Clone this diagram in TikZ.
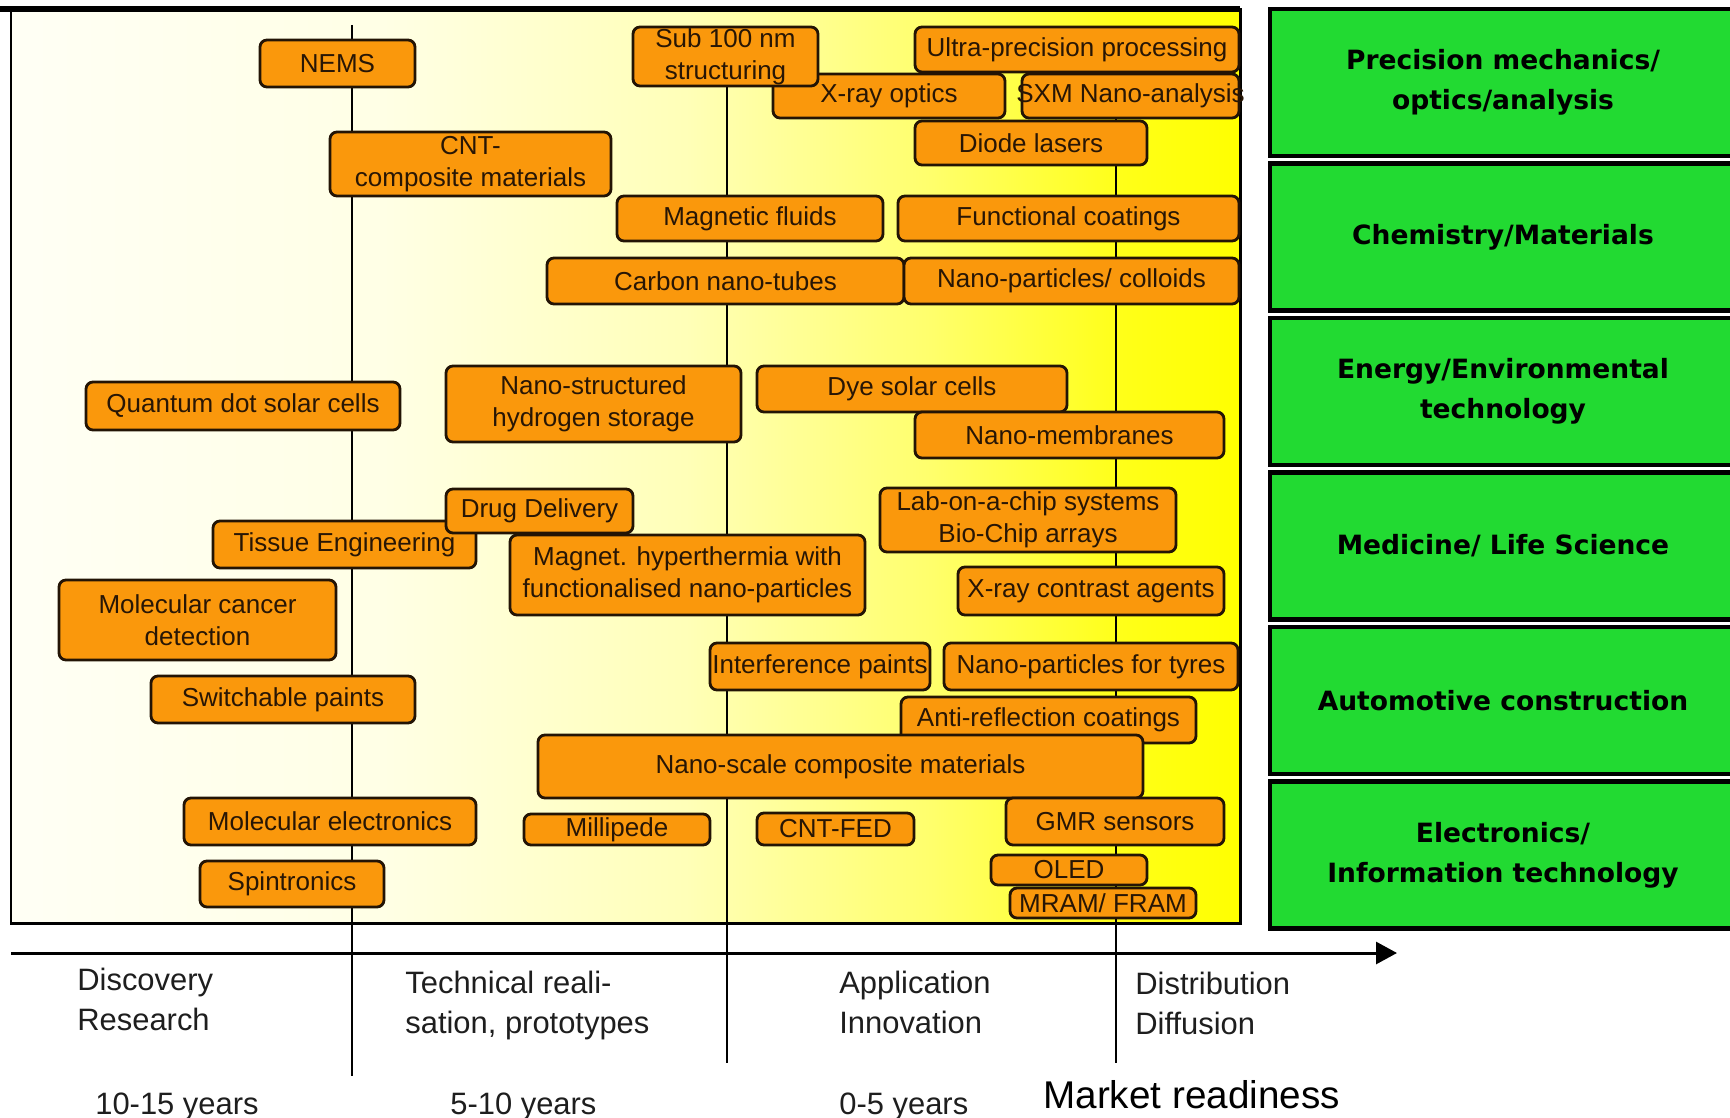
\documentclass[tikz,border=0pt]{standalone}
\usepackage{fontspec}
\setmainfont{Liberation Sans}
\newfontfamily\sectorfont{DejaVu Sans}
\usetikzlibrary{arrows.meta}

\definecolor{techorange}{RGB}{250,152,12}
\definecolor{boxline}{RGB}{35,20,5}
\definecolor{boxtext}{RGB}{40,22,5}
\definecolor{sectorgreen}{RGB}{34,218,50}
\definecolor{labelgray}{RGB}{30,30,30}

% cream on the left, plain yellow towards market readiness
\pgfdeclarehorizontalshading{readiness}{100bp}{rgb(0bp)=(1,1,0.96); rgb(25bp)=(1,1,0.96); rgb(40bp)=(1,1,0.9); rgb(52.5bp)=(1,1,0.72); rgb(62.5bp)=(1,1,0.42); rgb(70bp)=(1,1,0.1); rgb(75bp)=(1,1,0); rgb(100bp)=(1,1,0)}

\begin{document}
\begin{tikzpicture}[
    x = 0.02cm, y = -0.02cm,
    tech/.style = {draw=boxline, line width=1.6pt, fill=techorange, rounded corners=4pt, inner sep=0pt, align=center, text=boxtext, font=\fontsize{14.8}{18.2}\selectfont},
    dims/.style 2 args = {minimum width=#1*0.02cm, minimum height=#2*0.02cm},
    sector/.style = {draw=black, line width=2.4pt, fill=sectorgreen, inner sep=0pt, align=center, minimum width=466*0.02cm, minimum height=147*0.02cm, font=\sectorfont\bfseries\fontsize{15.1}{22.8}\selectfont},
    phase/.style = {anchor=north west, align=left, inner sep=0pt, text=labelgray, font=\fontsize{17.6}{22.8}\selectfont},
    divider/.style = {line width=1.4pt, black},
    axis/.style = {line width=1.7pt, black, -{Triangle[length=0.42cm, width=0.44cm]}}
]
\useasboundingbox (0,0) rectangle (1730,1118);
\fill[white] (0,0) rectangle (1730,1118);

% Background and frame
\shade[shading=readiness] (11,9) rectangle (1240,923);
\draw[line width=1.7pt] (11,9) rectangle (1240,923);
\draw[line width=3pt] (0,9) -- (1240,9);

% Phase dividers and time axis
\coordinate (d1top) at (352,25);
\coordinate (d1bot) at (352,1076);
\coordinate (d2top) at (727,30);
\coordinate (d2bot) at (727,1063);
\coordinate (d3top) at (1116,30);
\coordinate (d3bot) at (1116,1063);
\draw[divider] (d1top) -- (d1bot);
\draw[divider] (d2top) -- (d2bot);
\draw[divider] (d3top) -- (d3bot);
\coordinate (axisstart) at (11,953);
\coordinate (axisend) at (1397,953);
\draw[axis] (axisstart) -- (axisend);

% Precision mechanics / optics
\node[tech, dims={155}{47}] (nems) at (337.5,63.5) {NEMS};
\node[tech, dims={232}{44}] (xray) at (889,96) {X-ray optics};
\node[tech, dims={185}{59}] (sub100) at (725.5,56.5) {Sub 100 nm\\structuring};
\node[tech, dims={324}{45}] (ultra) at (1077,49.5) {Ultra-precision processing};
\node[tech, dims={217}{44}] (sxm) at (1130.5,96) {\makebox[0pt]{SXM Nano-analysis}};
\node[tech, dims={232}{44}] (diode) at (1031,143) {Diode lasers};

% Chemistry / materials
\node[tech, dims={281}{64}] (cntcomp) at (470.5,164) {CNT-\\composite materials};
\node[tech, dims={266}{45}] (magfluid) at (750,218.5) {Magnetic fluids};
\node[tech, dims={341}{45}] (funccoat) at (1068.5,218.5) {Functional coatings};
\node[tech, dims={357}{46}] (carbon) at (725.5,281) {Carbon nano-tubes};
\node[tech, dims={335}{46}] (colloids) at (1071.5,281) {Nano-particles/ colloids};

% Energy / environment
\node[tech, dims={314}{48}] (qdot) at (243,406) {Quantum dot solar cells};
\node[tech, dims={295}{76}] (hydrogen) at (593.5,404) {Nano-structured\\hydrogen storage};
\node[tech, dims={310}{46}] (dye) at (912,389) {Dye solar cells};
\node[tech, dims={309}{46}] (membranes) at (1069.5,435) {Nano-membranes};

% Medicine / life science
\node[tech, dims={263}{47}] (tissue) at (344.5,544.5) {Tissue Engineering};
\node[tech, dims={187}{44}] (drug) at (539.5,511) {Drug Delivery};
\node[tech, dims={355}{80}] (hyper) at (687.5,575) {Magnet. hyperthermia with\\functionalised nano-particles};
\node[tech, dims={296}{64}] (labchip) at (1028,520) {Lab-on-a-chip systems\\Bio-Chip arrays};
\node[tech, dims={266}{48}] (contrast) at (1091,591) {X-ray contrast agents};
\node[tech, dims={277}{80}] (cancer) at (197.5,620) {Molecular cancer\\detection};

% Automotive
\node[tech, dims={264}{47}] (switchable) at (283,699.5) {Switchable paints};
\node[tech, dims={220}{47}] (interference) at (820,666.5) {Interference paints};
\node[tech, dims={294}{47}] (tyres) at (1091,666.5) {Nano-particles for tyres};
\node[tech, dims={295}{46}] (antirefl) at (1048.5,720) {Anti-reflection coatings};
\node[tech, dims={605}{63}] (nanoscale) at (840.5,766.5) {Nano-scale composite materials};

% Electronics / IT
\node[tech, dims={292}{47}] (molelec) at (330,821.5) {Molecular electronics};
\node[tech, dims={186}{31}] (millipede) at (617,829.5) {Millipede};
\node[tech, dims={157}{32}] (cntfed) at (835.5,829) {CNT-FED};
\node[tech, dims={218}{47}] (gmr) at (1115,821.5) {GMR sensors};
\node[tech, dims={184}{46}] (spin) at (292,884) {Spintronics};
\node[tech, dims={156}{30}] (oled) at (1069,870) {OLED};
\node[tech, dims={186}{30}] (mram) at (1103,903) {MRAM/ FRAM};

% Application sectors
\node[sector] (precision) at (1503,82.5) {Precision mechanics/\\optics/analysis};
\node[sector] (chemistry) at (1503,237) {Chemistry/Materials};
\node[sector] (energy) at (1503,391.5) {Energy/Environmental\\technology};
\node[sector] (medicine) at (1503,546) {Medicine/ Life Science};
\node[sector] (automotive) at (1503,700.5) {Automotive construction};
\node[sector] (electronics) at (1503,855) {Electronics/\\Information technology};

% Phases below the axis
\node[phase] (discovery) at (77,968) {Discovery\\Research};
\node[phase] (technical) at (405,971) {Technical reali-\\sation, prototypes};
\node[phase] (application) at (839,971) {Application\\Innovation};
\node[phase] (distribution) at (1135,972) {Distribution\\Diffusion};
\node[phase] (years1) at (95,1093) {10-15 years};
\node[phase] (years2) at (450,1093) {5-10 years};
\node[phase] (years3) at (839,1093) {0-5 years};
\node[phase, font=\fontsize{22}{26}\selectfont, text=black] (market) at (1043,1080) {Market readiness};

\end{tikzpicture}
\end{document}
